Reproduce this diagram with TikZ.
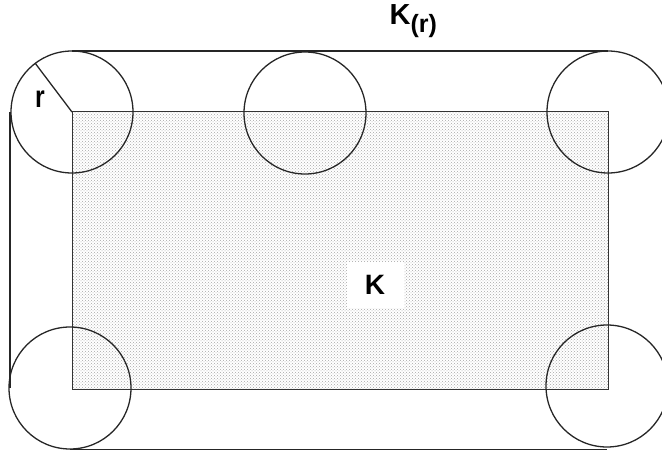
\documentclass[tikz,border=0pt]{standalone}
\usepackage{fontspec}
\setmainfont{Liberation Sans}
\usetikzlibrary{patterns}
\begin{document}
\begin{tikzpicture}[x=1pt,y=-1pt,
  outline/.style={line width=1.3pt,draw=black!85},
  ball/.style={line width=1.3pt,draw=black!85},
  core/.style={line width=1pt,draw=black!80,pattern=crosshatch dots,pattern color=black!35},
  lbl/.style={inner sep=0pt,font=\bfseries}]
\useasboundingbox (0,0) rectangle (662,452);
% set K
\coordinate (tl) at (72,112);
\coordinate (tr) at (608,112);
\coordinate (br) at (608,389);
\coordinate (bl) at (72,389);
\path[core] (tl) rectangle (br);
\node[fill=white,minimum width=57pt,minimum height=46pt,inner sep=0pt] (k) at (375,285)
  {\fontsize{28}{28}\selectfont\bfseries K};
\draw[line width=1pt,draw=black!80] (tl) rectangle (br);
% balls
\coordinate (c1) at (72,112);
\coordinate (c2) at (305,113);
\coordinate (c3) at (608,112);
\coordinate (c4) at (70,388);
\coordinate (c5) at (607,386);
\foreach \c in {c1,c2,c3,c4,c5}{\draw[ball] (\c) circle[radius=61pt];}
% outer boundary K_(r)
\coordinate (t1) at (72,51);
\coordinate (t2) at (608,51);
\coordinate (l1) at (10,112);
\coordinate (l2) at (10,388);
\coordinate (b1) at (70,449.5);
\coordinate (b2) at (607,449.5);
\draw[outline] (t1) -- (t2);
\draw[outline] (l1) -- (l2);
\draw[outline] (b1) -- (b2);
% radius
\coordinate (rend) at (35,63);
\draw[line width=1.3pt,draw=black!85] (c1) -- (rend);
\node[lbl,anchor=base west] (rl) at (35,107) {\scalebox{0.8}[1]{\fontsize{31}{31}\selectfont r}};
\node[lbl,anchor=base west] (kr) at (389.5,25)
  {\fontsize{29}{29}\selectfont K\raisebox{-7.5pt}{\fontsize{25}{25}\selectfont (r)}};
\end{tikzpicture}
\end{document}
